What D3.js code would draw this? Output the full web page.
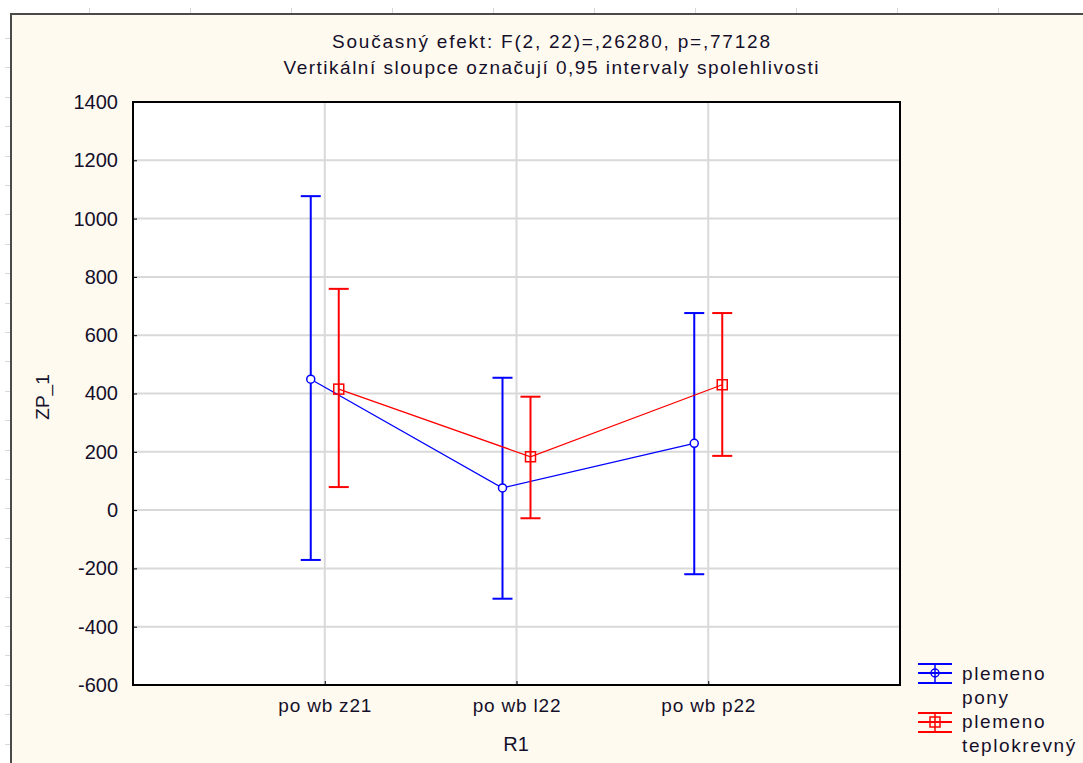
<!DOCTYPE html>
<html><head><meta charset="utf-8">
<script src="https://cdn.jsdelivr.net/npm/d3@7"></script>
<style>body{margin:0;background:#fff}svg{display:block}text{font-family:"Liberation Sans",Arial,sans-serif;fill:#15102a}</style>
</head><body>
<svg id="c" width="1083" height="763"></svg>
<script>
const categories = ["po wb z21", "po wb l22", "po wb p22"];
const seriesNames = ["plemeno pony", "plemeno teplokrevný"];
const ponyMean = [449, 76, 229];
const ponyLow = [-171, -304, -220];
const ponyHigh = [1077, 454, 676];
const teploMean = [415, 183, 430];
const teploLow = [79, -28, 186];
const teploHigh = [759, 389, 676];
const yTicks = [-600, -400, -200, 0, 200, 400, 600, 800, 1000, 1200, 1400];
const titleLines = ["Současný efekt: F(2, 22)=,26280, p=,77128", "Vertikální sloupce označují 0,95 intervaly spolehlivosti"];
const legendLines = [["plemeno", "pony"], ["plemeno", "teplokrevný"]];
const colors = ["#0000ff", "#ff0000"];

const series = [
  {name: seriesNames[0], mean: ponyMean, low: ponyLow, high: ponyHigh, color: colors[0], marker: "circle"},
  {name: seriesNames[1], mean: teploMean, low: teploLow, high: teploHigh, color: colors[1], marker: "square"}
];

const svg = d3.select("#c");
const W = 1083, H = 763;
const L = 133, R = 900, T = 102, B = 685;

// ruler ticks (decorative)
const ruler = svg.append("g").attr("stroke", "#d8d8d8").attr("stroke-width", 1);
d3.range(89, W, 101).forEach(x => ruler.append("line").attr("x1", x + .5).attr("x2", x + .5).attr("y1", 8).attr("y2", 13));
d3.range(38, H, 29.4).forEach(y => ruler.append("line").attr("x1", 5).attr("x2", 10).attr("y1", Math.round(y) + .5).attr("y2", Math.round(y) + .5));

// outer frame
svg.append("rect").attr("x", 11).attr("y", 14).attr("width", W + 20).attr("height", H + 20)
  .attr("fill", "#fffaf0").attr("stroke", "#4a4a4a").attr("stroke-width", 2);

// plot area
svg.append("rect").attr("x", L).attr("y", T).attr("width", R - L).attr("height", B - T).attr("fill", "#fff");

const x = d3.scalePoint().domain(categories).range([L, R]).padding(1);
const off = d3.scalePoint().domain(seriesNames).range([-14, 14]);
const y = d3.scaleLinear().domain([-600, 1400]).range([B, T]);

// grid
const grid = svg.append("g").attr("stroke", "#d9d9d9").attr("stroke-width", 2);
yTicks.forEach(v => grid.append("line").attr("x1", L).attr("x2", R).attr("y1", y(v)).attr("y2", y(v)));
categories.forEach(c => grid.append("line").attr("x1", x(c)).attr("x2", x(c)).attr("y1", T).attr("y2", B));

// axes
const yAxis = svg.append("g").attr("transform", `translate(${L},0)`)
  .call(d3.axisLeft(y).tickValues(yTicks).tickSize(-4).tickPadding(15).tickFormat(d => String(d)));
yAxis.select(".domain").remove();
yAxis.selectAll("line").attr("stroke", "#000").attr("stroke-width", 1);
yAxis.selectAll("text").attr("font-size", 20).attr("font-family", "Liberation Sans, Arial").attr("fill", "#15102a");

const xAxis = svg.append("g").attr("transform", `translate(0,${B})`)
  .call(d3.axisBottom(x).tickSize(-4).tickPadding(14));
xAxis.select(".domain").remove();
xAxis.selectAll("line").attr("stroke", "#000").attr("stroke-width", 1);
xAxis.selectAll("text").attr("font-size", 19).attr("letter-spacing", 0.8).attr("font-family", "Liberation Sans, Arial").attr("fill", "#15102a");

svg.append("rect").attr("x", L).attr("y", T).attr("width", R - L).attr("height", B - T)
  .attr("fill", "none").attr("stroke", "#000").attr("stroke-width", 2);

// series
series.forEach(s => {
  const g = svg.append("g");
  const px = c => x(c) + off(s.name);
  const line = d3.line().x((d, i) => px(categories[i])).y(d => y(d));
  g.append("path").attr("d", line(s.mean)).attr("fill", "none").attr("stroke", s.color).attr("stroke-width", 1.3);
  categories.forEach((c, i) => {
    const cx = px(c);
    g.append("line").attr("x1", cx).attr("x2", cx).attr("y1", y(s.low[i])).attr("y2", y(s.high[i])).attr("stroke", s.color).attr("stroke-width", 2);
    [s.low[i], s.high[i]].forEach(v => g.append("line").attr("x1", cx - 10).attr("x2", cx + 10).attr("y1", y(v)).attr("y2", y(v)).attr("stroke", s.color).attr("stroke-width", 2));
    if (s.marker === "circle") {
      g.append("circle").attr("cx", cx).attr("cy", y(s.mean[i])).attr("r", 4).attr("fill", "#fff").attr("stroke", s.color).attr("stroke-width", 1.5);
    } else {
      g.append("rect").attr("x", cx - 5).attr("y", y(s.mean[i]) - 5).attr("width", 10).attr("height", 10).attr("fill", "none").attr("stroke", s.color).attr("stroke-width", 1.5);
    }
  });
});

// titles
const tlen = [438, 535];
titleLines.forEach((t, i) => {
  svg.append("text").attr("x", 551).attr("y", 48 + i * 26).attr("text-anchor", "middle")
    .attr("font-size", 19).attr("textLength", tlen[i]).attr("lengthAdjust", "spacing").text(t);
});

// axis titles
svg.append("text").attr("x", 516).attr("y", 751).attr("text-anchor", "middle").attr("font-size", 20).text("R1");
svg.append("text").attr("transform", "translate(49,397) rotate(-90)").attr("text-anchor", "middle").attr("font-size", 19).text("ZP_1");

// legend
series.forEach((s, i) => {
  const g = svg.append("g").attr("transform", `translate(935,${673 + i * 49})`);
  g.append("line").attr("x1", -17).attr("x2", 17).attr("y1", -9).attr("y2", -9).attr("stroke", s.color).attr("stroke-width", 2);
  g.append("line").attr("x1", -17).attr("x2", 17).attr("y1", 0).attr("y2", 0).attr("stroke", s.color).attr("stroke-width", 2);
  g.append("line").attr("x1", -17).attr("x2", 17).attr("y1", 10).attr("y2", 10).attr("stroke", s.color).attr("stroke-width", 2);
  g.append("line").attr("x1", 0).attr("x2", 0).attr("y1", -9).attr("y2", 10).attr("stroke", s.color).attr("stroke-width", 1.5);
  if (s.marker === "circle") g.append("circle").attr("r", 4).attr("fill", "none").attr("stroke", s.color).attr("stroke-width", 1.5);
  else g.append("rect").attr("x", -5).attr("y", -5).attr("width", 10).attr("height", 10).attr("fill", "none").attr("stroke", s.color).attr("stroke-width", 1.5);
  legendLines[i].forEach((t, j) => {
    svg.append("text").attr("x", 962).attr("y", 680 + i * 48 + j * 24).attr("font-size", 19)
      .attr("letter-spacing", 1.6).text(t);
  });
});
</script>
</body></html>
